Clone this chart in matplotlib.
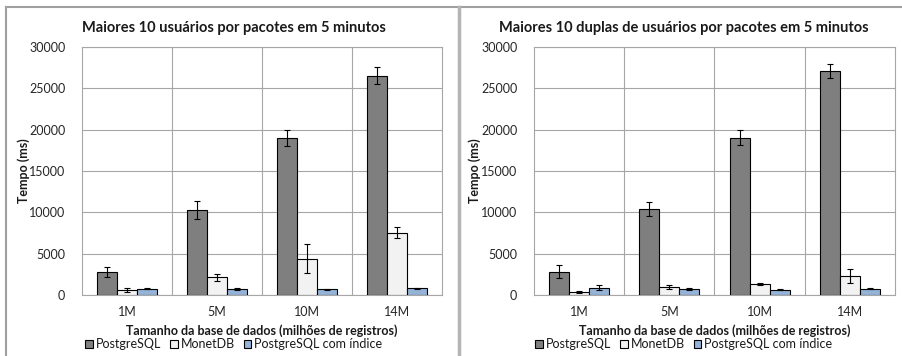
import numpy as np
import matplotlib.pyplot as plt
from matplotlib.patches import Patch
from matplotlib.lines import Line2D

plt.rcParams['font.family'] = ['Lato', 'DejaVu Sans']

bases = ["1M", "5M", "10M", "14M"]
series = ["PostgreSQL", "MonetDB", "PostgreSQL com índice"]
cores = ["#7f7f7f", "#f2f2f2", "#95b3d7"]

# tempos (ms) e desvios - 10 usuarios
usuarios_pg = [2750, 10300, 19000, 26550]
usuarios_pg_err = [600, 1050, 1000, 1000]
usuarios_monet = [600, 2150, 4400, 7550]
usuarios_monet_err = [200, 450, 1750, 700]
usuarios_idx = [750, 750, 700, 800]
usuarios_idx_err = [50, 100, 70, 80]

# tempos (ms) e desvios - 10 duplas
duplas_pg = [2800, 10450, 19050, 27100]
duplas_pg_err = [770, 850, 950, 900]
duplas_monet = [400, 950, 1350, 2300]
duplas_monet_err = [100, 250, 120, 900]
duplas_idx = [900, 700, 650, 750]
duplas_idx_err = [250, 100, 50, 50]

W, H = 903, 356
fig = plt.figure(figsize=(W / 100, H / 100), dpi=100)


def grafico(ax, titulo, valores, erros, cx, ylab_x):
    x = np.arange(len(bases))
    w = 0.222
    for i, (v, e) in enumerate(zip(valores, erros)):
        ax.bar(x + (i - 1) * w, v, w, color=cores[i], edgecolor="black", linewidth=0.8,
               yerr=e, error_kw=dict(ecolor="black", elinewidth=0.8, capsize=2.5, capthick=0.8),
               zorder=3)
    ax.set_xlim(-0.5, 3.5)
    ax.set_ylim(0, 30000)
    ax.set_yticks(range(0, 30001, 5000))
    ax.set_xticks(x)
    ax.set_xticklabels(bases)
    ax.tick_params(length=0, labelsize=9, colors="#262626", pad=8)
    ax.tick_params(axis="y", pad=12)
    ax.grid(axis="y", color="#a6a6a6", linewidth=0.8, zorder=0)
    for b in [0.5, 1.5, 2.5]:
        ax.axvline(b, color="#a6a6a6", linewidth=0.8, zorder=0)
    for s in ax.spines.values():
        s.set_color("#a6a6a6")
        s.set_linewidth(0.8)
    ax.set_ylabel("Tempo (ms)", fontsize=9, fontweight="bold", color="#1a1a1a")
    ax.yaxis.set_label_coords(ylab_x, 0.5)
    ax.set_xlabel("Tamanho da base de dados (milhões de registros)", fontsize=9,
                  fontweight="bold", color="#1a1a1a", va="center")
    ax.xaxis.set_label_coords(0.5, -36 / 248)
    fig.text(cx / W, 1 - 28 / H, titulo, ha="center", va="center",
             fontsize=10.5, fontweight="bold", color="#1a1a1a")
    handles = [Patch(facecolor=c, edgecolor="black", linewidth=0.8) for c in cores]
    fig.legend(handles, series, loc="center", bbox_to_anchor=(cx / W, 1 - 344 / H),
               ncol=3, frameon=False, fontsize=9, handlelength=0.6, handleheight=0.6,
               handletextpad=0.25, columnspacing=0.7, borderpad=0, labelcolor="#1a1a1a")


ax1 = fig.add_axes([82 / W, 1 - 295 / H, 360 / W, 248 / H])
grafico(ax1, "Maiores 10 usuários por pacotes em 5 minutos",
        [usuarios_pg, usuarios_monet, usuarios_idx],
        [usuarios_pg_err, usuarios_monet_err, usuarios_idx_err], 234, (30 - 82) / 360)

ax2 = fig.add_axes([534 / W, 1 - 295 / H, 361 / W, 248 / H])
grafico(ax2, "Maiores 10 duplas de usuários por pacotes em 5 minutos",
        [duplas_pg, duplas_monet, duplas_idx],
        [duplas_pg_err, duplas_monet_err, duplas_idx_err], 684, (481 - 534) / 361)

# moldura dos dois quadros
fig.add_artist(Line2D([6 / W, 1], [1 - 7 / H, 1 - 7 / H], color="#a0a0a0", linewidth=1.5))
fig.add_artist(Line2D([6 / W, 6 / W], [0, 1 - 7 / H], color="#a0a0a0", linewidth=1.5))
fig.add_artist(Line2D([459.5 / W, 459.5 / W], [0, 1 - 7 / H], color="#b4b4b4", linewidth=2.5))

fig.savefig("out.png", dpi=100)
